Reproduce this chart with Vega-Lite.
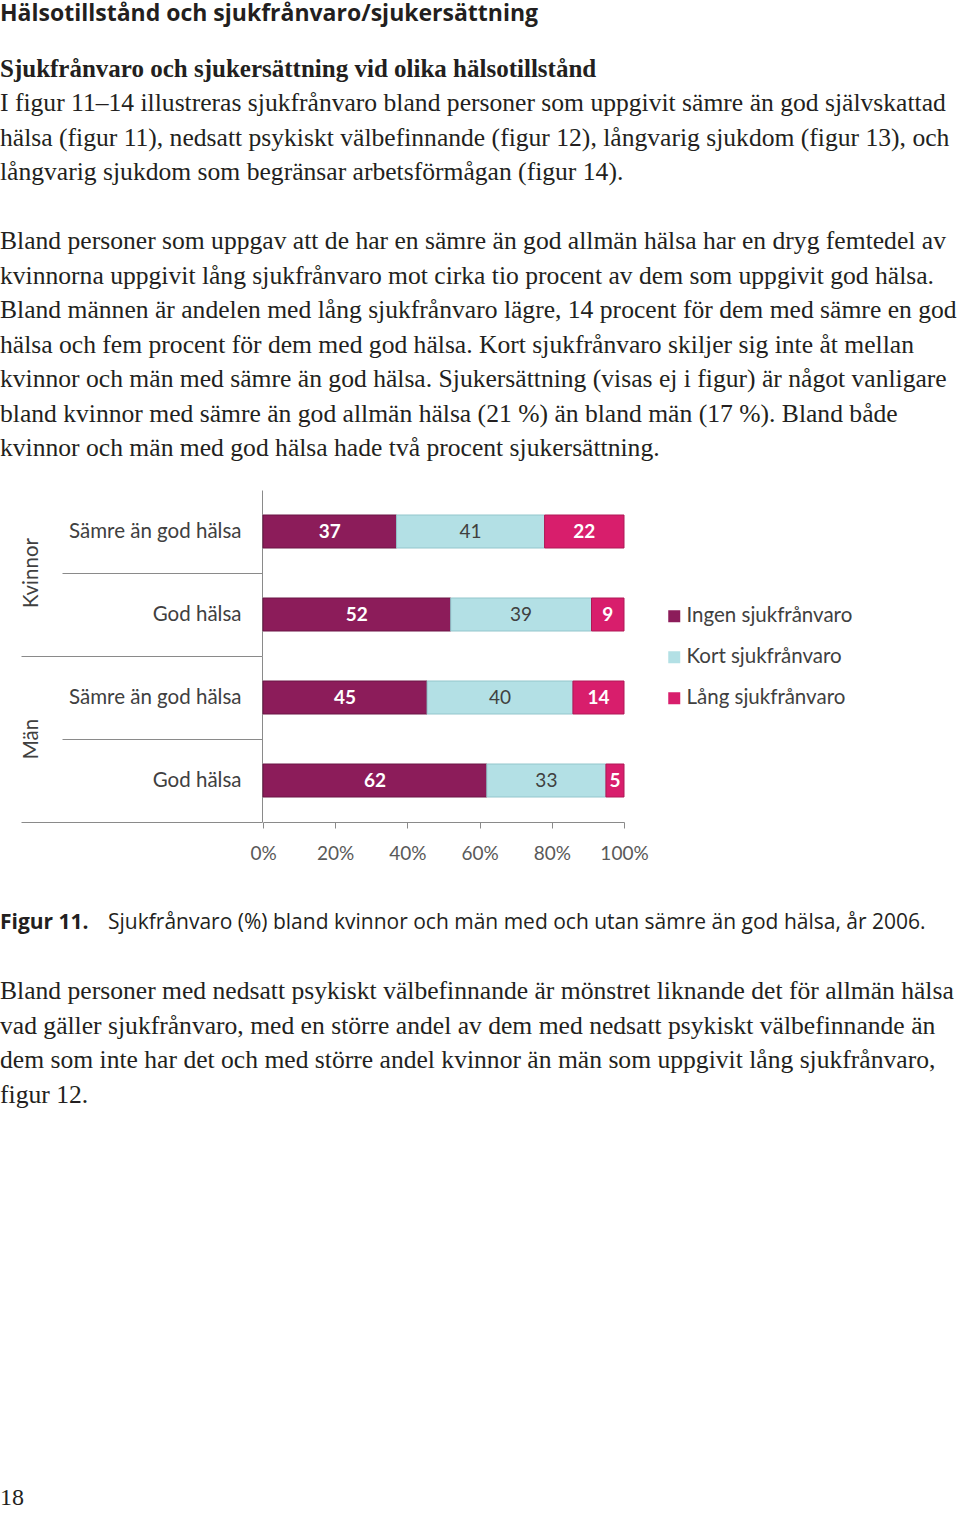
{
  "$schema": "https://vega.github.io/schema/vega-lite/v6.json",
  "padding": 0,
  "background": "white",
  "spacing": 0,
  "config": {
    "view": {"stroke": null},
    "concat": {"spacing": 0},
    "facet": {"spacing": 0},
    "font": "Lato"
  },
  "vconcat": [
    {
      "width": 361,
      "height": 40,
      "data": {"values": []},
      "mark": "text",
      "encoding": {},
      "title": {
        "text": "Hälsotillstånd och sjukfrånvaro/sjukersättning",
        "orient": "bottom", "anchor": "start", "frame": "group",
        "offset": -37, "dx": -263,
        "font": "Open Sans", "fontSize": 23, "fontWeight": "bold", "color": "#231f20"
      }
    },
    {
      "width": 361,
      "height": 180,
      "data": {"values": []},
      "mark": "text",
      "encoding": {},
      "title": {
        "text": "Sjukfrånvaro och sjukersättning vid olika hälsotillstånd",
        "orient": "bottom", "anchor": "start", "frame": "group",
        "offset": -163, "dx": -263,
        "font": "Liberation Serif", "fontSize": 25, "fontWeight": "bold", "color": "#231f20",
        "subtitle": [
          "I figur 11–14 illustreras sjukfrånvaro bland personer som uppgivit sämre än god självskattad",
          "hälsa (figur 11), nedsatt psykiskt välbefinnande (figur 12), långvarig sjukdom (figur 13), och",
          "långvarig sjukdom som begränsar arbetsförmågan (figur 14)."
        ],
        "subtitleFont": "Liberation Serif", "subtitleFontSize": 25.6, "subtitleColor": "#231f20",
        "subtitleLineHeight": 34.5, "subtitlePadding": 9
      }
    },
    {
      "width": 361,
      "height": 260,
      "data": {"values": []},
      "mark": "text",
      "encoding": {},
      "title": {
        "text": [
          "Bland personer som uppgav att de har en sämre än god allmän hälsa har en dryg femtedel av",
          "kvinnorna uppgivit lång sjukfrånvaro mot cirka tio procent av dem som uppgivit god hälsa.",
          "Bland männen är andelen med lång sjukfrånvaro lägre, 14 procent för dem med sämre en god",
          "hälsa och fem procent för dem med god hälsa. Kort sjukfrånvaro skiljer sig inte åt mellan",
          "kvinnor och män med sämre än god hälsa. Sjukersättning (visas ej i figur) är något vanligare",
          "bland kvinnor med sämre än god allmän hälsa (21 %) än bland män (17 %). Bland både",
          "kvinnor och män med god hälsa hade två procent sjukersättning."
        ],
        "orient": "bottom", "anchor": "start", "frame": "group",
        "offset": -251, "dx": -263,
        "font": "Liberation Serif", "fontSize": 25.6, "fontWeight": "normal", "color": "#231f20",
        "lineHeight": 34.5
      }
    },
    {
      "data": {"values": [
        {"kon": "Kvinnor", "halsa": "Sämre än god hälsa", "typ": "Ingen sjukfrånvaro", "andel": 37},
        {"kon": "Kvinnor", "halsa": "Sämre än god hälsa", "typ": "Kort sjukfrånvaro", "andel": 41},
        {"kon": "Kvinnor", "halsa": "Sämre än god hälsa", "typ": "Lång sjukfrånvaro", "andel": 22},
        {"kon": "Kvinnor", "halsa": "God hälsa", "typ": "Ingen sjukfrånvaro", "andel": 52},
        {"kon": "Kvinnor", "halsa": "God hälsa", "typ": "Kort sjukfrånvaro", "andel": 39},
        {"kon": "Kvinnor", "halsa": "God hälsa", "typ": "Lång sjukfrånvaro", "andel": 9},
        {"kon": "Män", "halsa": "Sämre än god hälsa", "typ": "Ingen sjukfrånvaro", "andel": 45},
        {"kon": "Män", "halsa": "Sämre än god hälsa", "typ": "Kort sjukfrånvaro", "andel": 40},
        {"kon": "Män", "halsa": "Sämre än god hälsa", "typ": "Lång sjukfrånvaro", "andel": 14},
        {"kon": "Män", "halsa": "God hälsa", "typ": "Ingen sjukfrånvaro", "andel": 62},
        {"kon": "Män", "halsa": "God hälsa", "typ": "Kort sjukfrånvaro", "andel": 33},
        {"kon": "Män", "halsa": "God hälsa", "typ": "Lång sjukfrånvaro", "andel": 5}
      ]},
      "transform": [
        {"stack": "andel", "groupby": ["kon", "halsa"], "offset": "normalize",
         "sort": [{"field": "typ", "order": "ascending"}], "as": ["v0", "v1"]}
      ],
      "spacing": 0,
      "facet": {
        "row": {
          "field": "kon", "type": "nominal", "sort": ["Kvinnor", "Män"], "title": null,
          "header": {"labelFont": "Lato", "labelFontSize": 20.5, "labelColor": "#404040", "labelPadding": -32, "labelAngle": -90}
        }
      },
      "spec": {
        "width": 361,
        "height": 166,
        "encoding": {
          "y": {
            "field": "halsa", "type": "nominal", "sort": ["Sämre än god hälsa", "God hälsa"],
            "scale": {"paddingInner": 0, "paddingOuter": 0},
            "axis": {
              "title": null,
              "tickBand": "extent",
              "domainColor": "#8a8a8a",
              "tickColor": "#8a8a8a",
              "tickSize": {"condition": [
                {"test": "datum.value === 'God hälsa'", "value": 241},
                {"test": "datum.value === 'Sämre än god hälsa'", "value": 200}
              ], "value": 0},
              "labelPadding": {"condition": [
                {"test": "datum.value === 'God hälsa'", "value": -220},
                {"test": "datum.value === 'Sämre än god hälsa'", "value": -179}
              ], "value": 0},
              "labelFont": "Lato", "labelFontSize": 20.5, "labelColor": "#404040", "labelLimit": 400
            }
          }
        },
        "layer": [
          {
            "mark": {"type": "bar", "size": 33, "strokeWidth": 1},
            "encoding": {
              "x": {
                "field": "v0", "type": "quantitative",
                "scale": {"domain": [0, 1], "nice": false},
                "axis": {
                  "values": [0, 0.2, 0.4, 0.6, 0.8, 1], "format": ".0%", "title": null, "grid": false,
                  "tickSize": 6, "labelPadding": 16, "labelFont": "Lato", "labelFontSize": 19,
                  "labelColor": "#595959", "domainColor": "#8a8a8a", "tickColor": "#8a8a8a", "labelFlush": false
                }
              },
              "x2": {"field": "v1"},
              "color": {
                "field": "typ", "type": "nominal",
                "scale": {"domain": ["Ingen sjukfrånvaro", "Kort sjukfrånvaro", "Lång sjukfrånvaro"],
                          "range": ["#8c1c5a", "#b3e0e5", "#d81e6c"]},
                "legend": {
                  "orient": "none", "legendX": 401, "legendY": 606, "title": null,
                  "symbolType": "square", "symbolSize": 144, "symbolStrokeWidth": 0,
                  "labelFont": "Lato", "labelFontSize": 20.5, "labelColor": "#404040", "labelLimit": 300,
                  "rowPadding": 20, "labelOffset": 2, "padding": 0
                }
              },
              "stroke": {
                "field": "typ", "type": "nominal",
                "scale": {"domain": ["Ingen sjukfrånvaro", "Kort sjukfrånvaro", "Lång sjukfrånvaro"],
                          "range": ["#6a1444", "#93c6cc", "#b01856"]},
                "legend": null
              }
            }
          },
          {
            "mark": {"type": "text", "font": "Lato", "fontSize": 19,
                     "fontWeight": {"expr": "datum.typ === 'Kort sjukfrånvaro' ? 'normal' : 'bold'"}},
            "encoding": {
              "x": {
                "field": "andel", "type": "quantitative", "stack": "normalize", "bandPosition": 0.5,
                "scale": {"domain": [0, 1], "nice": false},
                "axis": {
                  "values": [0, 0.2, 0.4, 0.6, 0.8, 1], "format": ".0%", "title": null, "grid": false,
                  "tickSize": 6, "labelPadding": 16, "labelFont": "Lato", "labelFontSize": 19,
                  "labelColor": "#595959", "domainColor": "#8a8a8a", "tickColor": "#8a8a8a", "labelFlush": false
                }
              },
              "detail": {"field": "typ", "type": "nominal"},
              "order": {"field": "typ", "sort": "ascending"},
              "text": {"field": "andel", "type": "quantitative"},
              "color": {"condition": {"test": "datum.typ === 'Kort sjukfrånvaro'", "value": "#404040"}, "value": "white"}
            }
          }
        ]
      }
    },
    {
      "spacing": 0,
      "bounds": "flush",
      "hconcat": [
        {
          "width": 100,
          "height": 60,
          "data": {"values": []},
          "mark": "text",
          "encoding": {},
          "title": {
            "text": "Figur 11.",
            "orient": "bottom", "anchor": "start", "frame": "group",
            "offset": -11, "dx": -263,
            "font": "Open Sans", "fontSize": 21, "fontWeight": "bold", "color": "#231f20"
          }
        },
        {
          "width": 1,
          "height": 60,
          "data": {"values": []},
          "mark": "text",
          "encoding": {},
          "title": {
            "text": "Sjukfrånvaro (%) bland kvinnor och män med och utan sämre än god hälsa, år 2006.",
            "orient": "bottom", "anchor": "start", "frame": "group",
            "offset": -11, "dx": -255,
            "font": "Open Sans", "fontSize": 21, "fontWeight": "normal", "color": "#231f20"
          }
        }
      ]
    },
    {
      "width": 361,
      "height": 600,
      "data": {"values": []},
      "mark": "text",
      "encoding": {},
      "title": {
        "text": [
          "Bland personer med nedsatt psykiskt välbefinnande är mönstret liknande det för allmän hälsa",
          "vad gäller sjukfrånvaro, med en större andel av dem med nedsatt psykiskt välbefinnande än",
          "dem som inte har det och med större andel kvinnor än män som uppgivit lång sjukfrånvaro,",
          "figur 12."
        ],
        "orient": "bottom", "anchor": "start", "frame": "group",
        "offset": -554, "dx": -263,
        "font": "Liberation Serif", "fontSize": 25.6, "fontWeight": "normal", "color": "#231f20",
        "lineHeight": 34.5,
        "subtitle": "18",
        "subtitleFont": "Liberation Serif", "subtitleFontSize": 24, "subtitleColor": "#231f20",
        "subtitlePadding": 378
      }
    }
  ]
}
